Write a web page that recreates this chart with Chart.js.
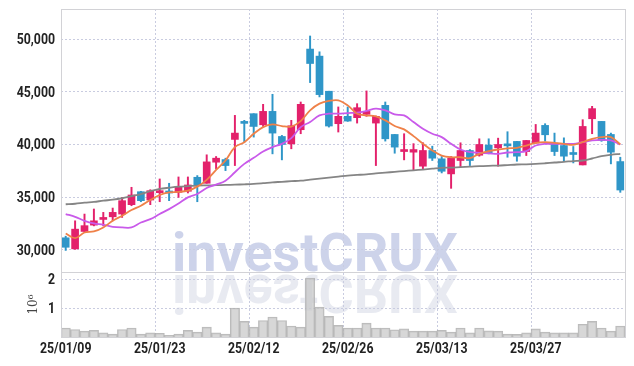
<!DOCTYPE html>
<html>
<head>
<meta charset="utf-8">
<script src="https://cdn.jsdelivr.net/npm/chart.js@4.4.1/dist/chart.umd.min.js"></script>
<style>
  html, body { margin: 0; padding: 0; background: #fff; }
  #wrap { width: 634px; height: 366px; }
</style>
</head>
<body>
<div id="wrap"><canvas id="myChart" width="634" height="366"></canvas></div>
<script>
const dates = [
  "25/01/09","25/01/10","25/01/13","25/01/14","25/01/15","25/01/16","25/01/17","25/01/20","25/01/21","25/01/22",
  "25/01/23","25/01/24","25/01/31","25/02/03","25/02/04","25/02/05","25/02/06","25/02/07","25/02/10","25/02/11",
  "25/02/12","25/02/13","25/02/14","25/02/17","25/02/18","25/02/19","25/02/20","25/02/21","25/02/24","25/02/25",
  "25/02/26","25/02/27","25/02/28","25/03/04","25/03/05","25/03/06","25/03/07","25/03/10","25/03/11","25/03/12",
  "25/03/13","25/03/14","25/03/17","25/03/18","25/03/19","25/03/20","25/03/21","25/03/24","25/03/25","25/03/26",
  "25/03/27","25/03/28","25/03/31","25/04/01","25/04/02","25/04/03","25/04/04","25/04/07","25/04/08","25/04/09"
];

const opens = [
  31150,30100,31750,32350,32890,33140,33400,34290,35520,34730,
  35430,35520,35460,35560,36890,36320,38320,38570,40480,42130,
  42920,41870,43140,40760,40060,41400,49050,48380,45050,41970,
  42670,42540,42860,42030,43710,40950,39330,39270,37940,39430,
  38640,37210,38480,39430,38980,39940,39680,40060,40290,39330,
  40130,41810,40130,39900,39140,38060,42440,42190,40950,38380
];
const highs = [
  31300,32760,33400,33880,33560,33970,34980,35940,35560,35710,
  36730,36320,36920,36920,37050,39020,38860,38700,42760,42290,
  42920,43810,44760,40860,42290,44030,50290,48790,45050,43560,
  43560,43870,45080,42700,44030,40950,41020,40080,40170,39840,
  38860,38860,40160,39520,40540,40540,40600,41210,40290,40380,
  41900,41970,41080,40630,39810,42350,43620,42190,41080,38790
];
const lows = [
  29950,30050,31700,32280,32280,32760,33080,34190,34570,34290,
  34570,34670,34980,35400,34570,36320,37680,37520,38000,40220,
  40700,41710,39110,38540,39590,41020,45870,44510,41650,41180,
  42190,42030,42670,38000,40320,39170,38540,37590,37710,38480,
  37300,35840,37900,38000,38890,39110,37940,38790,38410,38950,
  40130,40320,38950,38410,38250,38060,41020,40300,38160,35460
];
const closes = [
  30250,31970,32300,32760,33020,33560,34670,35210,34670,35620,
  35620,35400,35940,36160,36160,38350,38700,38000,41080,42000,
  41710,43140,41080,40000,41780,43810,47680,44730,41750,42670,
  42220,43490,43140,42670,40540,39750,39520,39520,39430,38700,
  37460,38700,39430,38480,40000,39210,40000,39870,38890,40380,
  41080,40920,39330,38890,39050,41710,43400,40380,39270,35680
];
const volumes = [
  310000,260000,200000,230000,140000,100000,260000,310000,100000,140000,
  130000,60000,100000,230000,170000,340000,140000,100000,1000000,540000,
  340000,570000,690000,570000,380000,340000,2030000,1030000,710000,400000,
  310000,310000,480000,310000,310000,250000,280000,200000,200000,200000,
  230000,170000,310000,140000,310000,210000,200000,100000,90000,140000,
  280000,170000,140000,140000,140000,440000,540000,310000,200000,380000
];

const ma5 = [
  31560,31110,31650,31750,32130,32760,33240,33780,34190,34730,
  35210,35460,35500,35620,36000,36640,37590,38480,39750,40220,
  41020,41650,41900,41750,41700,42220,43240,43870,44130,44190,
  43710,42920,42760,42670,42290,41750,41430,40790,40080,39430,
  38950,38790,38790,38700,39110,39370,39520,39630,39680,39900,
  40160,40220,40160,40060,39970,40220,40540,40700,40700,40000
];
const ma20 = [
  33400,33140,32760,32510,32380,32190,32130,32130,32600,32920,
  33400,33870,34400,34980,35300,35870,36190,36570,37370,38160,
  38730,39330,39750,40060,40600,41650,42130,42760,42920,42920,
  42980,43020,43180,43400,43240,42850,42760,42130,41490,41020,
  40700,40060,39520,39270,39210,39170,39110,39240,39270,39370,
  39900,40060,40060,40060,40060,40220,40380,40440,40380,40000
];
const ma60 = [
  34330,34380,34480,34550,34670,34760,34900,35100,35300,35570,
  35780,35900,36000,36050,36100,36120,36140,36160,36190,36220,
  36260,36330,36410,36460,36520,36570,36670,36760,36860,36950,
  37050,37110,37170,37260,37330,37400,37480,37550,37620,37700,
  37780,37810,37860,37900,37950,37980,38000,38050,38100,38120,
  38160,38220,38290,38350,38430,38480,38670,38890,39020,39110
];

const priceTicks = [30000, 35000, 40000, 45000, 50000];
const volumeTicks = [1000000, 2000000];

const upColor = "#e3216b";
const downColor = "#2f96c8";
const candleColors = closes.map((c, i) => c >= opens[i] ? upColor : downColor);
const gridColor = "#c9cce0";

// narrow bold labels: Roboto squeezed sideways
function drawLabel(ctx, txt, x, y, align) {
  ctx.save();
  ctx.translate(x, y);
  ctx.scale(0.82, 1);
  ctx.textAlign = align;
  ctx.textBaseline = "middle";
  ctx.fillText(txt, 0, 0);
  ctx.restore();
}

const watermark = {
  id: "watermark",
  beforeDraw(chart) {
    const ctx = chart.ctx;
    const text = "investCRUX";
    ctx.save();
    ctx.font = "bold 54px Roboto, 'DejaVu Sans', sans-serif";
    const w = ctx.measureText(text).width;
    const sx = 286 / w;
    ctx.textBaseline = "alphabetic";
    ctx.textAlign = "left";
    ctx.save();
    ctx.translate(172, 271);
    ctx.scale(sx, 1);
    ctx.fillStyle = "rgba(178,188,222,0.65)";
    ctx.fillText(text, 0, 0);
    ctx.restore();
    ctx.save();
    ctx.translate(172, 275);
    ctx.scale(sx, -1);
    ctx.fillStyle = "rgba(200,204,222,0.42)";
    ctx.fillText(text, 0, 0);
    ctx.restore();
    ctx.restore();
  },
  afterDraw(chart) {
    const ctx = chart.ctx;
    const a = chart.chartArea;
    const xs = chart.scales.x;
    const yp = chart.scales.y;
    const yv = chart.scales.y2;
    ctx.save();
    ctx.strokeStyle = "#d2d2d6";
    ctx.lineWidth = 1;
    ctx.strokeRect(Math.round(a.left) + 0.5, Math.round(a.top) + 0.5, Math.round(a.right - a.left), Math.round(a.bottom - a.top));
    ctx.beginPath();
    ctx.moveTo(a.left, Math.round(yp.bottom) + 0.5);
    ctx.lineTo(a.right, Math.round(yp.bottom) + 0.5);
    ctx.stroke();

    ctx.fillStyle = "#222";
    ctx.font = "bold 15px Roboto, sans-serif";
    dates.forEach((d, i) => {
      if (i % 10 === 0) drawLabel(ctx, d, xs.getPixelForValue(i), a.bottom + 12, "center");
    });
    priceTicks.forEach((v) => drawLabel(ctx, v.toLocaleString("en-US"), 55, yp.getPixelForValue(v) + 1, "right"));
    volumeTicks.forEach((v) => drawLabel(ctx, String(v / 1000000), 55, yv.getPixelForValue(v) + 1, "right"));

    // axis title of the volume panel
    ctx.save();
    ctx.translate(34, (yv.top + yv.bottom) / 2);
    ctx.rotate(-Math.PI / 2);
    ctx.fillStyle = "#444";
    ctx.font = "12px 'DejaVu Serif', serif";
    ctx.textAlign = "center";
    ctx.textBaseline = "middle";
    ctx.fillText("10\u2076", 0, 0);
    ctx.restore();
    ctx.restore();
  }
};

new Chart("myChart", {
  data: {
    labels: dates,
    datasets: [
      { type: "line", label: "MA5", data: ma5, yAxisID: "y", borderColor: "#ef8148", borderWidth: 1.8, pointRadius: 0, tension: 0.35 },
      { type: "line", label: "MA20", data: ma20, yAxisID: "y", borderColor: "#c95aea", borderWidth: 1.8, pointRadius: 0, tension: 0.35 },
      { type: "line", label: "MA60", data: ma60, yAxisID: "y", borderColor: "#858585", borderWidth: 1.8, pointRadius: 0, tension: 0.35 },
      {
        type: "bar", label: "body", yAxisID: "y", grouped: false,
        data: closes.map((c, i) => [opens[i], c]),
        backgroundColor: candleColors, barThickness: 7, minBarLength: 2
      },
      {
        type: "bar", label: "wick", yAxisID: "y", grouped: false,
        data: highs.map((h, i) => [lows[i], h]),
        backgroundColor: candleColors, barThickness: 1.3
      },
      {
        type: "bar", label: "volume", yAxisID: "y2", grouped: false,
        data: volumes,
        backgroundColor: "rgba(200,200,200,0.72)", borderColor: "rgba(170,170,170,0.8)", borderWidth: 1,
        barPercentage: 1, categoryPercentage: 1
      }
    ]
  },
  options: {
    responsive: false,
    animation: false,
    layout: { padding: { top: 9, right: 9, left: 0, bottom: 0 } },
    plugins: {
      legend: { display: false },
      tooltip: { enabled: false }
    },
    scales: {
      x: {
        type: "category",
        offset: true,
        afterFit: (s) => { s.height = 29; },
        grid: {
          color: (c) => (c.index % 10 === 0 ? gridColor : "transparent"),
          drawTicks: false
        },
        border: { display: false, dash: [2, 2] },
        ticks: { display: false, autoSkip: false }
      },
      y2: {
        type: "linear", position: "left", stack: "v", stackWeight: 1,
        min: 0, max: 2240000,
        afterFit: (s) => { s.width = 61; },
        afterBuildTicks: (s) => { s.ticks = volumeTicks.map((v) => ({ value: v })); },
        grid: { color: gridColor, drawTicks: false },
        border: { display: false, dash: [2, 2] },
        ticks: { display: false }
      },
      y: {
        type: "linear", position: "left", stack: "v", stackWeight: 4.05,
        min: 27900, max: 52850,
        afterFit: (s) => { s.width = 61; },
        afterBuildTicks: (s) => { s.ticks = priceTicks.map((v) => ({ value: v })); },
        grid: { color: gridColor, drawTicks: false },
        border: { display: false, dash: [2, 2] },
        ticks: { display: false }
      }
    }
  },
  plugins: [watermark]
});
</script>
</body>
</html>
